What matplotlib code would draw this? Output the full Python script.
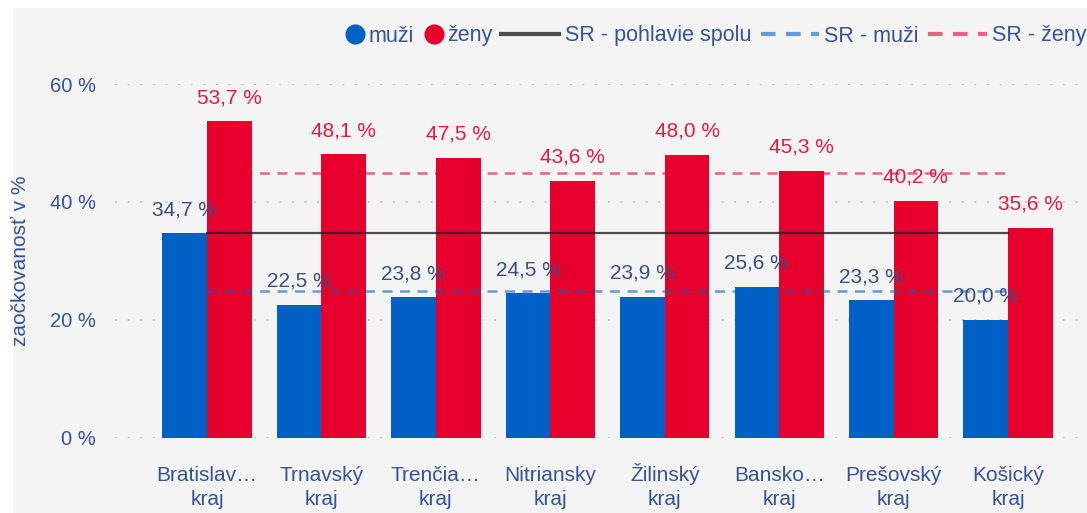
import matplotlib.pyplot as plt
import numpy as np
from matplotlib.lines import Line2D
from matplotlib.patches import Rectangle

plt.rcParams['font.family'] = ['Liberation Sans', 'DejaVu Sans']

kraje = ['Bratislav…\nkraj', 'Trnavský\nkraj', 'Trenčia…\nkraj', 'Nitriansky\nkraj',
         'Žilinský\nkraj', 'Bansko…\nkraj', 'Prešovský\nkraj', 'Košický\nkraj']
muzi = [34.7, 22.5, 23.8, 24.5, 23.9, 25.6, 23.3, 20.0]
zeny = [53.7, 48.1, 47.5, 43.6, 48.0, 45.3, 40.2, 35.6]
sr_spolu = 34.7
sr_muzi = 24.9
sr_zeny = 44.9
yticks = [0, 20, 40, 60]

c_blue = '#0060c6'
c_red = '#e8002d'
c_txt = '#34539b'
c_lab_m = '#3a4f80'

W, H = 1087, 513
fig = plt.figure(figsize=(W / 100, H / 100), dpi=100)
fig.patch.set_facecolor('white')
# grey panel behind the chart
fig.patches.append(Rectangle((13 / W, 0), 1 - 13 / W, 1 - 8 / H, transform=fig.transFigure,
                             facecolor='#f4f4f4', edgecolor='none', zorder=-5))

ax = fig.add_axes([115 / W, 1 - 437.7 / H, 1 - 115 / W, 353.7 / H])
ax.set_facecolor('none')

x = np.arange(len(kraje))
w = 0.39
ax.bar(x - w / 2, muzi, w, color=c_blue, zorder=2)
ax.bar(x + w / 2, zeny, w, color=c_red, zorder=2)

ax.plot([x[0], x[-1]], [sr_spolu, sr_spolu], color='#222222', alpha=0.8, lw=1.6, zorder=4)
ax.plot([x[0], x[-1]], [sr_muzi, sr_muzi], color=c_blue, alpha=0.6, lw=1.8,
        dashes=(4, 3), zorder=4)
ax.plot([x[0], x[-1]], [sr_zeny, sr_zeny], color=c_red, alpha=0.6, lw=1.8,
        dashes=(4, 3), zorder=4)

for i in range(len(kraje)):
    ax.annotate(f'{muzi[i]:.1f} %'.replace('.', ','), (x[i] - w / 2, muzi[i]),
                xytext=(0, 17), textcoords='offset points', ha='center', va='center',
                fontsize=15, color=c_lab_m, zorder=5)
    ax.annotate(f'{zeny[i]:.1f} %'.replace('.', ','), (x[i] + w / 2, zeny[i]),
                xytext=(0, 17), textcoords='offset points', ha='center', va='center',
                fontsize=15, color='#e8193c', zorder=5)
    # category labels, bottom-aligned so accents do not shift them
    ax.annotate(kraje[i], (x[i], 0), xycoords=('data', 'axes fraction'),
                xytext=(0, -51), textcoords='offset points', ha='center', va='bottom',
                multialignment='center', linespacing=1.3, fontsize=15, color=c_txt)

ax.set_xlim(-0.804, 7.69)
ax.set_ylim(0, 60)
ax.set_yticks(yticks)
ax.set_yticklabels([f'{t} %' for t in yticks])
ax.set_xticks(x)
ax.set_xticklabels([])
ax.tick_params(axis='both', length=0, colors=c_txt)
ax.tick_params(axis='y', pad=14, labelsize=14.5)
ax.grid(axis='y', color='#c4c4c4', linestyle=(0, (1, 6)), lw=1.3, zorder=0)
for s in ax.spines.values():
    s.set_visible(False)

ax.set_ylabel('zaočkovanosť v %', fontsize=15, color=c_txt)
ax.yaxis.set_label_coords(-(115 - 30) / 972, 0.5)

h1 = [Line2D([], [], marker='o', ls='none', color=c_blue, markersize=13.5),
      Line2D([], [], marker='o', ls='none', color=c_red, markersize=13.5)]
leg1 = fig.legend(h1, ['muži', 'ženy'], loc='center left', bbox_to_anchor=(344 / W, 1 - 36 / H),
                  ncol=2, frameon=False, fontsize=15.5, handlelength=1.0, handletextpad=0.15,
                  columnspacing=0.4, borderpad=0, borderaxespad=0, labelcolor=c_txt)
h2 = [Line2D([], [], color='#222222', alpha=0.8, lw=3),
      Line2D([], [], color=c_blue, alpha=0.6, lw=3, dashes=(3.5, 2.5)),
      Line2D([], [], color=c_red, alpha=0.6, lw=3, dashes=(3.5, 2.5))]
leg2 = fig.legend(h2, ['SR - pohlavie spolu', 'SR - muži', 'SR - ženy'], loc='center left',
                  bbox_to_anchor=(501 / W, 1 - 36 / H), ncol=3, frameon=False, fontsize=15.5,
                  handlelength=2.7, handletextpad=0.25, columnspacing=0.45, borderpad=0,
                  borderaxespad=0, labelcolor=c_txt)

fig.savefig('out.png', dpi=100)
